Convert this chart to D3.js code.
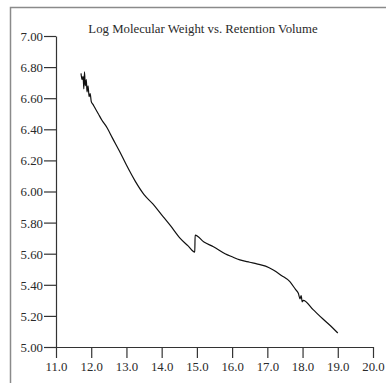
<!DOCTYPE html>
<html>
<head>
<meta charset="utf-8">
<script src="https://cdn.jsdelivr.net/npm/d3@7/dist/d3.min.js"></script>
<style>
  html, body { margin: 0; padding: 0; background: #fff; }
  svg { display: block; }
  text { font-family: "Liberation Serif", "Times New Roman", serif; fill: #2a2a2a; }
</style>
</head>
<body>
<div id="chart"></div>
<script>
// Retention volume (mL) and log molecular weight of the calibration trace
const retentionVolume = [
  11.71, 11.74, 11.77, 11.79, 11.81, 11.83, 11.86, 11.88, 11.91, 11.94, 11.97,
  12.00, 12.05, 12.10, 12.20, 12.30, 12.45, 12.60, 12.80, 13.00, 13.24, 13.50,
  13.75, 14.00, 14.25, 14.52, 14.75, 14.94, 14.95, 15.20, 15.47, 15.80, 16.00,
  16.22, 16.50, 16.70, 16.95, 17.17, 17.40, 17.64, 17.80, 17.88, 17.93, 17.96,
  17.99, 18.02, 18.30, 18.58, 18.80, 19.00
];
const logMW = [
  6.76, 6.72, 6.74, 6.66, 6.77, 6.68, 6.72, 6.64, 6.68, 6.61, 6.63,
  6.58, 6.56, 6.54, 6.50, 6.46, 6.41, 6.345, 6.26, 6.17, 6.07, 5.98,
  5.92, 5.85, 5.78, 5.70, 5.65, 5.61, 5.72, 5.675, 5.645, 5.60, 5.58,
  5.56, 5.545, 5.535, 5.52, 5.495, 5.46, 5.42, 5.37, 5.345, 5.31, 5.33,
  5.29, 5.30, 5.24, 5.18, 5.135, 5.09
];
const xTickValues = [11, 12, 13, 14, 15, 16, 17, 18, 19, 20];
const yTickValues = [5.0, 5.2, 5.4, 5.6, 5.8, 6.0, 6.2, 6.4, 6.6, 6.8, 7.0];
const chartTitle = "Log Molecular Weight vs. Retention Volume";

const W = 386, H = 383;
const svg = d3.select("#chart").append("svg").attr("width", W).attr("height", H);

// outer frame (top and left edges visible)
svg.append("path")
  .attr("d", `M10.5,${H} L10.5,7.5 L${W},7.5`)
  .attr("fill", "none").attr("stroke", "#8a8a8a").attr("stroke-width", 1.5);

const x = d3.scaleLinear().domain([11, 20]).range([56, 373]);
const y = d3.scaleLinear().domain([5, 7]).range([347, 36]);

// x axis
const xAxis = svg.append("g").attr("transform", "translate(0,347)")
  .call(d3.axisBottom(x).tickValues(xTickValues).tickFormat(d3.format(".1f"))
    .tickSize(11).tickSizeOuter(0).tickPadding(4));
// y axis
const yAxis = svg.append("g").attr("transform", "translate(56,0)")
  .call(d3.axisLeft(y).tickValues(yTickValues).tickFormat(d3.format(".2f"))
    .tickSize(12).tickSizeOuter(0).tickPadding(1));

[xAxis, yAxis].forEach(g => {
  g.select(".domain").attr("stroke", "#333").attr("stroke-width", 1.2);
  g.selectAll(".tick line").attr("stroke", "#333").attr("stroke-width", 1.2);
  g.selectAll(".tick text")
    .style("font-family", '"Liberation Serif", "Times New Roman", serif')
    .style("font-size", "12.8px").attr("fill", "#2a2a2a");
});
yAxis.selectAll(".tick text").attr("dy", "0.35em");

// title
svg.append("text")
  .attr("x", 203).attr("y", 33)
  .attr("text-anchor", "middle")
  .style("font-size", "12.8px")
  .text(chartTitle);

// calibration curve
const pts = retentionVolume.map((v, i) => [v, logMW[i]]);
svg.append("path")
  .datum(pts)
  .attr("fill", "none")
  .attr("stroke", "#111")
  .attr("stroke-width", 1.2)
  .attr("stroke-linejoin", "round")
  .attr("d", d3.line().curve(d3.curveMonotoneX).x(d => x(d[0])).y(d => y(d[1])));
</script>
</body>
</html>
